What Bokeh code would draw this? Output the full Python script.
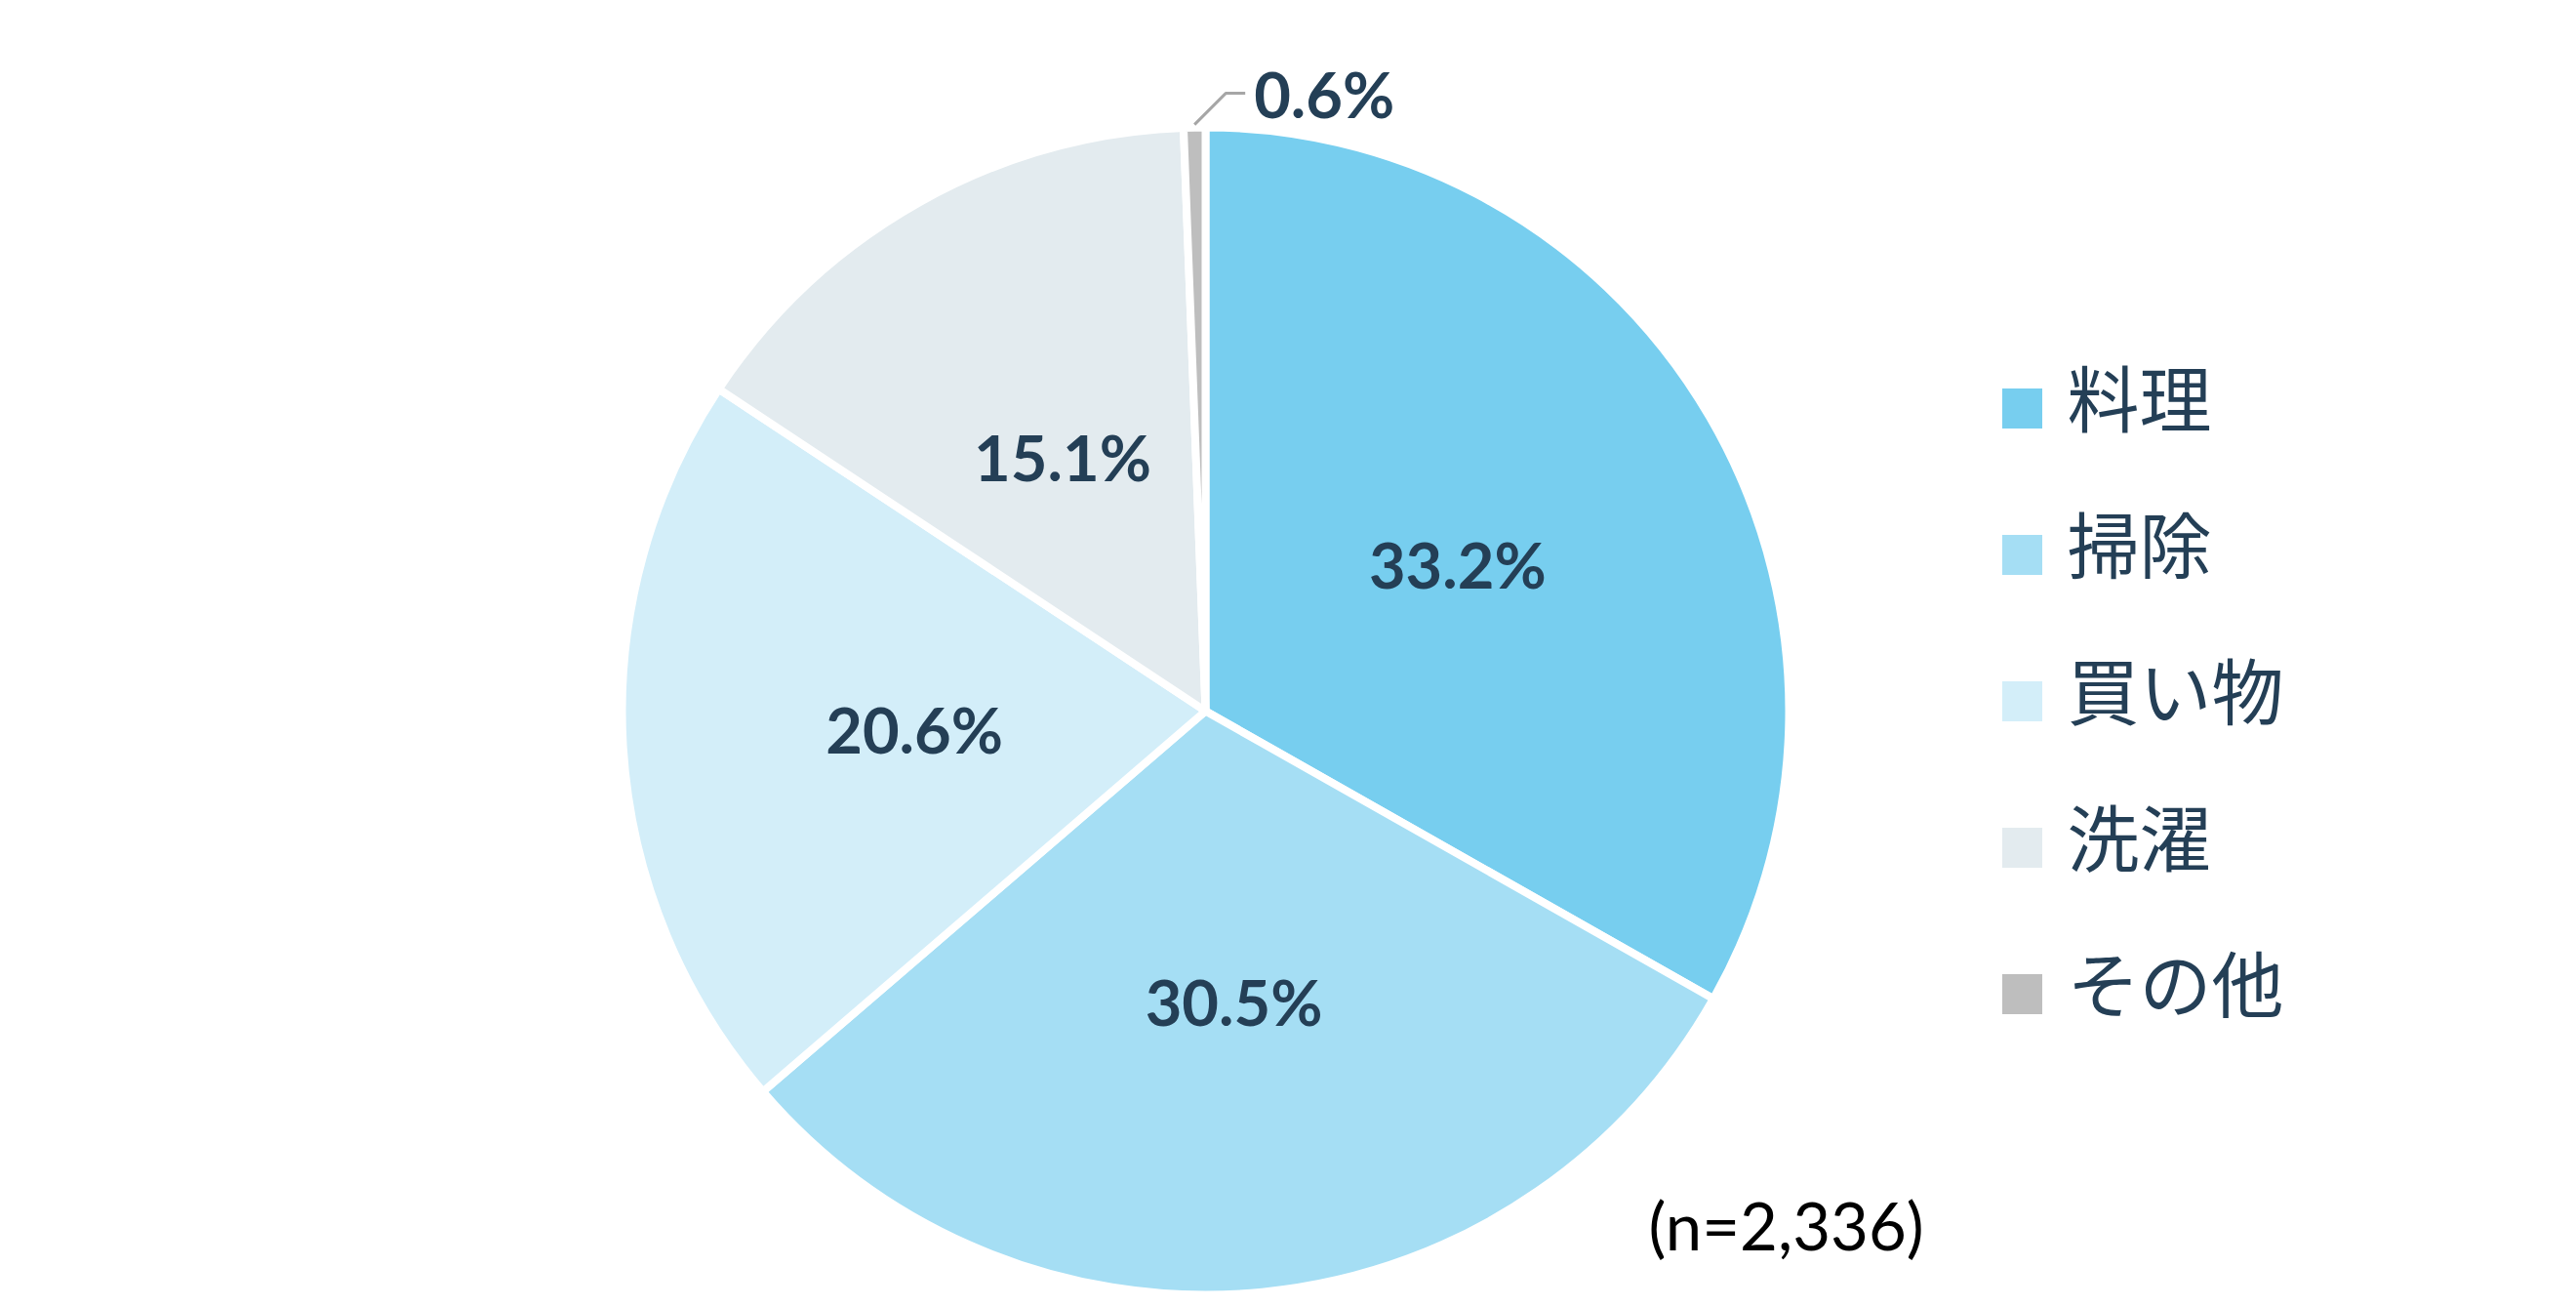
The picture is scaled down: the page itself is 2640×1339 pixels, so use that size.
import math
from bokeh.plotting import figure
from bokeh.models import Range1d, ColumnDataSource
from bokeh.core.properties import value
from bokeh.embed import file_html
from bokeh.resources import INLINE

# ---- data ----
categories = ["料理", "掃除", "買い物", "洗濯", "その他"]
shares = [33.2, 30.5, 20.6, 15.1, 0.6]
sample_label = "(n=2,336)"

# ---- styles ----
colors = ["#77CEEF", "#A5DEF4", "#D3EEF9", "#E3EBEF", "#BEBEBE"]
TEXT_DARK = "#243F56"

W, H = 2624, 1323
p = figure(width=W, height=H, output_backend="svg", toolbar_location=None,
           x_range=Range1d(0, W), y_range=Range1d(-H, 0),
           min_border=0, outline_line_color=None)
p.axis.visible = False
p.grid.visible = False
p.background_fill_color = "white"

cx, cy, r = 1235, -728, 598
total = sum(shares)
starts, ends, mids = [], [], []
cum = 0.0
for v in shares:
    a0 = 90 - 360 * (cum + v) / total
    a1 = 90 - 360 * cum / total
    starts.append(a0)
    ends.append(a1)
    mids.append((a0 + a1) / 2)
    cum += v

src = ColumnDataSource(dict(start=starts, end=ends, color=colors, cat=categories))
p.wedge(x=cx, y=cy, radius=r, start_angle="start", end_angle="end",
        start_angle_units="deg", end_angle_units="deg",
        fill_color="color", line_color="white", line_width=8, source=src)

# inside labels
lx, ly, lt = [], [], []
for v, m in zip(shares[:-1], mids[:-1]):
    lx.append(cx + 0.5 * r * math.cos(math.radians(m)))
    ly.append(cy + 0.5 * r * math.sin(math.radians(m)))
    lt.append(f"{v:.1f}%")
p.text(x=lx, y=ly, text=lt, text_font=value("Lato"), text_font_style="bold",
       text_font_size="65px", text_color=TEXT_DARK,
       text_align="center", text_baseline="middle")

# outside label with leader for the small slice
m = mids[-1]
sx = cx + 1.005 * r * math.cos(math.radians(m))
sy = cy + 1.005 * r * math.sin(math.radians(m))
ex, ey = sx + 32, sy + 32
hx = ex + 20
p.line(x=[sx, ex, hx], y=[sy, ey, ey], line_color="#A6A6A6", line_width=3)
p.text(x=[hx + 9], y=[ey], text=[f"{shares[-1]:.1f}%"], text_font=value("Lato"),
       text_font_style="bold", text_font_size="65px", text_color=TEXT_DARK,
       text_align="left", text_baseline="alphabetic")

# legend
leg_y = [-(418 + 150 * i) for i in range(len(categories))]
p.rect(x=[2072] * len(categories), y=leg_y, width=41, height=41,
       fill_color=colors, line_color=None)
p.text(x=[2118] * len(categories), y=[y + 14 for y in leg_y], text=categories,
       text_font=value("Noto Sans CJK JP"), text_font_size="74px",
       text_color=TEXT_DARK, text_align="left", text_baseline="middle")

# sample size
p.text(x=[1689], y=[-1254], text=[sample_label], text_font=value("Lato"),
       text_font_size="67px", text_color="#000000",
       text_align="left", text_baseline="middle")

open("out.html", "w").write(file_html(p, INLINE))
